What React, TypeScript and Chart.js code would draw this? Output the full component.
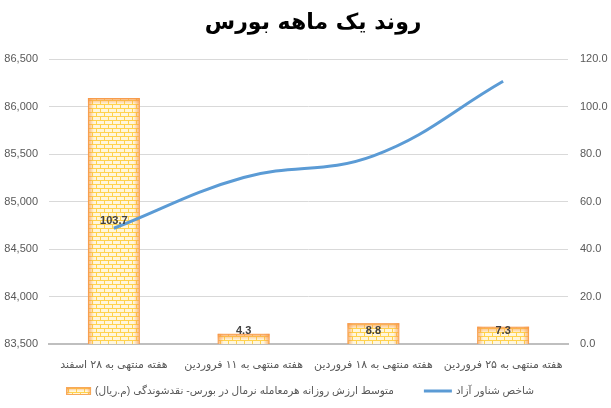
import React, { useEffect, useRef } from "react";
import { Chart, registerables } from "chart.js";

Chart.register(...registerables);

const titleText = "روند یک ماهه بورس  ";
const categories = [
  "هفته منتهی به ۲۸ اسفند",
  "هفته منتهی به ۱۱ فروردین",
  "هفته منتهی به ۱۸ فروردین",
  "هفته منتهی به ۲۵ فروردین",
];
const indexLabel = "شاخص شناور آزاد";
const indexValues = [84720, 85255, 85483, 86269];
const liquidityLabel = "متوسط ارزش روزانه هرمعامله نرمال در بورس- نقدشوندگی (م.ریال)";
const liquidityValues = [103.7, 4.3, 8.8, 7.3];
const leftMin = 83500;
const leftMax = 86500;
const leftStep = 500;
const rightMin = 0;
const rightMax = 120;
const rightStep = 20;

const FONT = "'Liberation Sans', 'DejaVu Sans', sans-serif";
const LINE_COLOR = "#5B9BD5";
const TEXT_COLOR = "#595959";
const BAR_BORDER = "#F7A85A";

function makeBrickPattern(): CanvasPattern | string {
  const c = document.createElement("canvas");
  c.width = 16;
  c.height = 8;
  const g = c.getContext("2d");
  if (!g) return "#FFE699";
  g.fillStyle = "#FFF6DC";
  g.fillRect(0, 0, 16, 8);
  g.fillStyle = "#FFD24D";
  g.fillRect(0, 0, 16, 1);
  g.fillRect(0, 4, 16, 1);
  g.fillRect(0, 0, 1, 4);
  g.fillRect(8, 0, 1, 4);
  g.fillRect(4, 4, 1, 4);
  g.fillRect(12, 4, 1, 4);
  const p = g.createPattern(c, "repeat");
  return p || "#FFE699";
}

function glowRect(ctx: CanvasRenderingContext2D, l: number, t: number, r: number, b: number, d: number) {
  const h = b - t;
  const c0 = "rgba(247,150,70,0.75)";
  const c1 = "rgba(247,150,70,0)";
  let gr = ctx.createLinearGradient(l, 0, l + d, 0);
  gr.addColorStop(0, c0);
  gr.addColorStop(1, c1);
  ctx.fillStyle = gr;
  ctx.fillRect(l, t, d, h);
  gr = ctx.createLinearGradient(r, 0, r - d, 0);
  gr.addColorStop(0, c0);
  gr.addColorStop(1, c1);
  ctx.fillStyle = gr;
  ctx.fillRect(r - d, t, d, h);
  gr = ctx.createLinearGradient(0, t, 0, t + d);
  gr.addColorStop(0, c0);
  gr.addColorStop(1, c1);
  ctx.fillStyle = gr;
  ctx.fillRect(l, t, r - l, Math.min(d, h));
}

const barGlow = {
  id: "barGlow",
  afterDatasetDraw(chart: any, args: any) {
    if (args.index !== 1) return;
    const ctx = chart.ctx;
    ctx.save();
    args.meta.data.forEach((el: any) => {
      const p = el.getProps(["x", "y", "base", "width"], true);
      const l = p.x - p.width / 2;
      const r = p.x + p.width / 2;
      const t = Math.min(p.y, p.base);
      const b = Math.max(p.y, p.base);
      glowRect(ctx, l, t, r, b, 6);
    });
    ctx.restore();
  },
};

const barLabels = {
  id: "barLabels",
  afterDatasetsDraw(chart: any) {
    const ctx = chart.ctx;
    const meta = chart.getDatasetMeta(1);
    ctx.save();
    ctx.font = "bold 11px " + FONT;
    ctx.fillStyle = "#404040";
    ctx.textAlign = "center";
    ctx.textBaseline = "middle";
    meta.data.forEach((el: any, i: number) => {
      const p = el.getProps(["x", "y", "base"], true);
      const h = p.base - p.y;
      const y = h > 40 ? (p.y + p.base) / 2 : p.base - 13;
      ctx.fillText(liquidityValues[i].toFixed(1), p.x, y);
    });
    ctx.restore();
  },
};

function makeLegendPlugin(pattern: any) {
  return {
    id: "customLegend",
    afterDraw(chart: any) {
      const ctx = chart.ctx as CanvasRenderingContext2D;
      ctx.save();
      ctx.font = "10.5px " + FONT;
      (ctx as any).direction = "rtl";
      const w1 = ctx.measureText(liquidityLabel).width;
      const w2 = ctx.measureText(indexLabel).width;
      const boxW = 25;
      const lineW = 28;
      const gap = 4;
      const itemGap = 30;
      const total = boxW + gap + w1 + itemGap + lineW + gap + w2;
      let x = 300 - total / 2;
      const y = 391;
      ctx.fillStyle = pattern;
      ctx.fillRect(x, y - 4, boxW, 8);
      glowRect(ctx, x, y - 4, x + boxW, y + 4, 4);
      ctx.strokeStyle = BAR_BORDER;
      ctx.lineWidth = 1;
      ctx.strokeRect(x + 0.5, y - 3.5, boxW - 1, 7);
      x += boxW + gap;
      ctx.fillStyle = TEXT_COLOR;
      ctx.textAlign = "left";
      ctx.textBaseline = "middle";
      ctx.fillText(liquidityLabel, x, y);
      x += w1 + itemGap;
      ctx.strokeStyle = LINE_COLOR;
      ctx.lineWidth = 3;
      ctx.beginPath();
      ctx.moveTo(x, y);
      ctx.lineTo(x + lineW, y);
      ctx.stroke();
      x += lineW + gap;
      ctx.fillStyle = TEXT_COLOR;
      ctx.fillText(indexLabel, x, y);
      ctx.restore();
    },
  };
}

export default function App() {
  const ref = useRef<HTMLCanvasElement | null>(null);

  useEffect(() => {
    if (!ref.current) return;
    const pattern = makeBrickPattern();
    const chart = new Chart(ref.current, {
      type: "bar",
      data: {
        labels: categories,
        datasets: [
          {
            type: "line",
            label: indexLabel,
            data: indexValues,
            yAxisID: "y",
            borderColor: LINE_COLOR,
            backgroundColor: LINE_COLOR,
            borderWidth: 3,
            pointRadius: 0,
            tension: 0.4,
            order: 0,
          } as any,
          {
            type: "bar",
            label: liquidityLabel,
            data: liquidityValues,
            yAxisID: "y1",
            backgroundColor: pattern as any,
            borderColor: BAR_BORDER,
            borderWidth: 1,
            barPercentage: 0.4,
            categoryPercentage: 1,
            order: 1,
          } as any,
        ],
      },
      options: {
        animation: false,
        responsive: false,
        maintainAspectRatio: false,
        layout: { padding: { left: 0, right: 0, top: 4, bottom: 37 } },
        plugins: {
          title: {
            display: true,
            text: titleText,
            color: "#000000",
            font: { family: "'DejaVu Sans', sans-serif", size: 22, weight: "bold" },
            padding: { top: 6, bottom: 23 },
          },
          legend: { display: false },
          tooltip: { enabled: false },
        },
        scales: {
          x: {
            grid: { display: false, drawTicks: false },
            border: { display: true, color: "#BFBFBF", width: 2 },
            afterFit: (s: any) => {
              s.height = 27;
            },
            ticks: {
              color: TEXT_COLOR,
              font: { family: FONT, size: 11 },
              maxRotation: 0,
              minRotation: 0,
              padding: 14,
            },
          },
          y: {
            position: "left",
            min: leftMin,
            max: leftMax,
            grid: { color: "#D9D9D9", tickLength: 0, drawTicks: false },
            border: { display: false },
            afterFit: (s: any) => {
              s.width = 49;
            },
            ticks: {
              stepSize: leftStep,
              color: TEXT_COLOR,
              font: { family: FONT, size: 11 },
              padding: 11,
              callback: (v: any) => Number(v).toLocaleString("en-US"),
            },
          },
          y1: {
            position: "right",
            min: rightMin,
            max: rightMax,
            grid: { display: false, drawTicks: false },
            border: { display: false },
            afterFit: (s: any) => {
              s.width = 43;
            },
            ticks: {
              stepSize: rightStep,
              color: TEXT_COLOR,
              font: { family: FONT, size: 11 },
              padding: 12,
              callback: (v: any) => Number(v).toFixed(1),
            },
          },
        },
      },
      plugins: [barGlow, barLabels, makeLegendPlugin(pattern)],
    });
    return () => chart.destroy();
  }, []);

  return (
    <div style={{ position: "fixed", left: 0, top: 0, width: 611, height: 408, background: "#fff" }}>
      <canvas ref={ref} width={611} height={408} dir="rtl" style={{ width: 611, height: 408, display: "block" }} />
    </div>
  );
}
